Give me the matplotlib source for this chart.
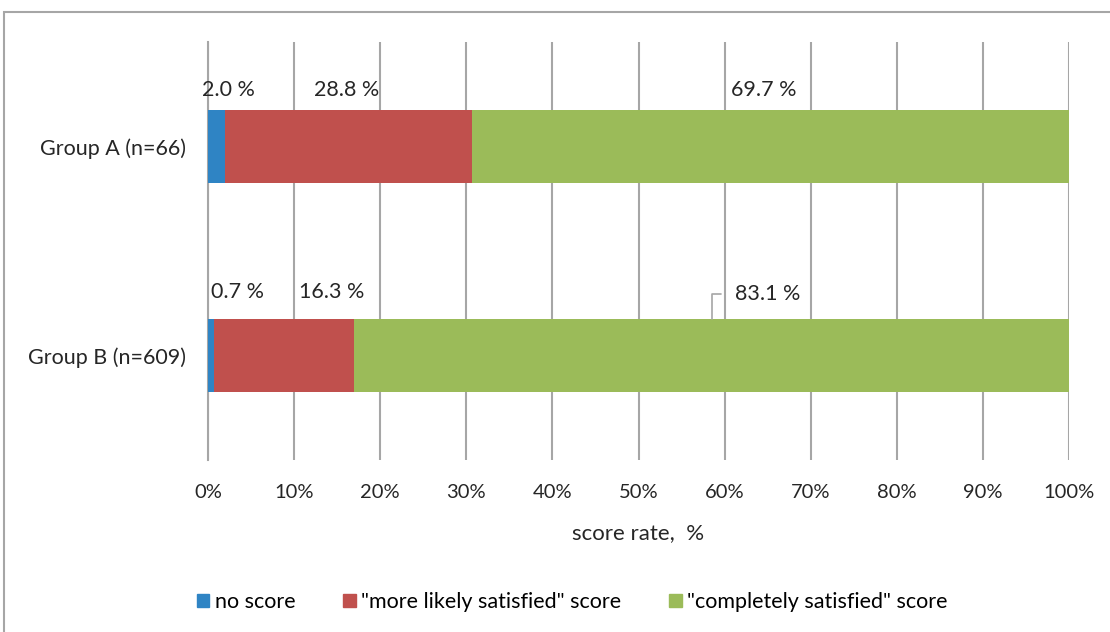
import matplotlib.pyplot as plt
from matplotlib.patches import Patch, Rectangle
import numpy as np

plt.rcParams['font.family'] = ['Lato', 'DejaVu Sans']

# данные: доля оценок по группам, %
groups = ['Group A (n=66)', 'Group B (n=609)']
no_score = [2.0, 0.7]
more_likely = [28.8, 16.3]
completely = [69.7, 83.1]
series_names = ['no score', '"more likely satisfied" score', '"completely satisfied" score']
colors = ['#2f84c4', '#c0504d', '#9bbb59']
ticks = np.arange(0, 101, 10)

vals = np.array([no_score, more_likely, completely])
# нормируем на 100% (нормированная линейка)
shares = vals / vals.sum(axis=0) * 100

fig = plt.figure(figsize=(11.10, 6.32), dpi=100)
ax = fig.add_axes([208 / 1110, 1 - 460 / 632, 861 / 1110, 418 / 632])

# рамка вокруг всей диаграммы
fig.patches.append(Rectangle((4 / 1110, -0.05), 1.2, 1.05 - 12 / 632,
                             transform=fig.transFigure, fill=False,
                             edgecolor='#a6a6a6', lw=1.5, zorder=0))

y = np.arange(len(groups))
h = 0.35
left = np.zeros(len(groups))
for k in range(3):
    ax.barh(y, shares[k], left=left, height=h, color=colors[k],
            edgecolor='none', zorder=3)
    left = left + shares[k]

# подписи значений (сдвиги в пикселях от центра сегмента)
offs = [[(12, 57), (26, 63)],
        [(-2, 57), (48, 63)],
        [(-7, 57), None]]
starts = np.vstack([np.zeros(len(groups)), np.cumsum(shares, axis=0)[:-1]])
for k in range(3):
    for i in range(len(groups)):
        cx = starts[k][i] + shares[k][i] / 2
        txt = f'{vals[k][i]:.1f} %'
        if offs[k][i] is None:
            ax.annotate(txt, xy=(cx, y[i] - h / 2), xytext=(23, 25),
                        textcoords='offset pixels', ha='left', va='center',
                        fontsize=15.5, color='#262626',
                        arrowprops=dict(arrowstyle='-', color='#a6a6a6', lw=1.2,
                                        relpos=(0, 0.5), shrinkA=8, shrinkB=0,
                                        connectionstyle='angle,angleA=180,angleB=90,rad=0'))
        else:
            ax.annotate(txt, xy=(cx, y[i]), xytext=offs[k][i],
                        textcoords='offset pixels', ha='center', va='center',
                        fontsize=15.5, color='#262626')

ax.set_xlim(0, 100)
ax.set_ylim(1.5, -0.5)
ax.set_xticks(ticks)
ax.set_xticklabels([f'{t}%' for t in ticks])
ax.set_yticks(y)
ax.set_yticklabels(groups)
ax.grid(axis='x', color='#a6a6a6', lw=1.5, zorder=0)
for s in ['top', 'right', 'bottom']:
    ax.spines[s].set_visible(False)
ax.spines['left'].set_color('#a6a6a6')
ax.spines['left'].set_linewidth(1.5)
ax.tick_params(axis='x', length=0, pad=17, labelsize=14.5, colors='#262626')
ax.tick_params(axis='y', length=0, pad=16, labelsize=15.5, colors='#262626')
ax.set_xlabel('score rate,  %', fontsize=16, color='#262626', labelpad=16)

handles = [Patch(color=c) for c in colors]
fig.legend(handles, series_names, loc='center', bbox_to_anchor=(572 / 1110, 1 - 602 / 632),
           ncol=3, frameon=False, fontsize=15.5, handlelength=0.6, handleheight=0.6,
           handletextpad=0.25, columnspacing=2.2)

fig.savefig('out.png', dpi=100)
